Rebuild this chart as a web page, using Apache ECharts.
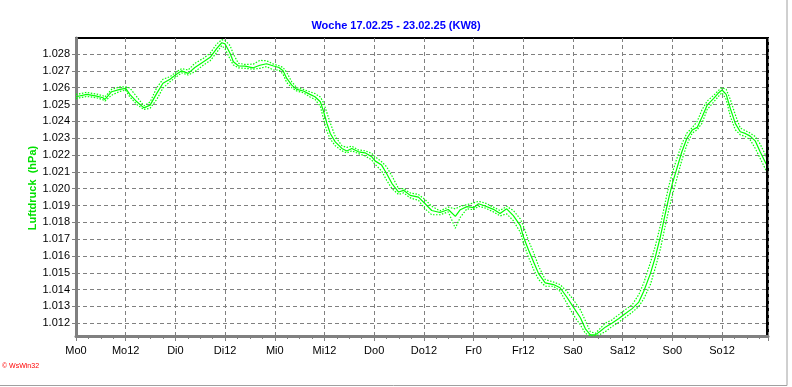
<!DOCTYPE html>
<html lang="de">
<head>
  <meta charset="UTF-8">
  <title>Luftdruck KW8</title>
  <script src="https://cdn.jsdelivr.net/npm/echarts@6/dist/echarts.min.js"></script>
  <style>
    html, body { margin: 0; padding: 0; background: #fff; }
    #chart { width: 792px; height: 387px; }
  </style>
</head>
<body>
  <div id="chart"></div>
  <script>
    // Stunden ab Montag 0 Uhr
    const hours = [0, 2.6, 5, 6.5, 7, 8.6, 10.6, 12, 13, 14.7, 16.4, 17.9, 19.5, 21, 22.7, 24, 25.5, 27.1, 28.7, 30.8,
      32.4, 34, 35.2, 36, 37.2, 38, 39.2, 40.8, 42.8, 44.4, 46, 47.7, 49, 50, 50.9, 52.1, 53.3, 54.9, 56.5, 57.7,
      59, 59.8, 60.6, 61.4, 62.6, 64.2, 65.4, 66.6, 68.2, 69.8, 71.4, 72.2, 73.8, 75, 76.3, 77.9, 79.1, 80.7, 82.7, 84.3,
      85.9, 87.9, 89.9, 91.6, 92.8, 94.4, 96, 97.2, 98.8, 100.8, 102.4, 104, 105.6, 107.3, 108, 109.3, 110.5, 111.7, 113.3, 115.3,
      116.9, 118.5, 120.1, 121.8, 123, 124.2, 125.4, 126.6, 127.8, 129.4, 131, 132.6, 134.3, 135.9, 137.1, 138.7, 139.9, 141.1, 142.3, 143.1,
      144, 145.1, 146.3, 147.5, 148.8, 150, 151.2, 152.4, 154, 155.2, 156, 157, 158, 159.2, 160.4, 161.6, 162.8, 164, 165.2, 166.6, 167.1]

    const pressure = [1.02546, 1.0256, 1.0255, 1.0254, 1.0253, 1.02576, 1.0259, 1.02596, 1.0256, 1.02516, 1.0248, 1.02496, 1.02566, 1.02626, 1.0265, 1.02675, 1.027, 1.02685, 1.0272, 1.02754,
      1.0278, 1.02834, 1.02867, 1.0286, 1.02804, 1.02754, 1.0273, 1.02728, 1.02718, 1.02733, 1.02742, 1.02729, 1.0272, 1.027, 1.02655, 1.02615, 1.0259, 1.0258, 1.0256, 1.02546,
      1.02516, 1.02457, 1.02387, 1.02328, 1.02278, 1.02239, 1.02224, 1.02239, 1.02219, 1.02213, 1.0219, 1.02165, 1.0214, 1.0209, 1.0203, 1.0198, 1.0199, 1.0196, 1.0195, 1.0191,
      1.0187, 1.01858, 1.01876, 1.01835, 1.01875, 1.01893, 1.01887, 1.0191, 1.01897, 1.01877, 1.01852, 1.0188, 1.0184, 1.0178, 1.01716, 1.01634, 1.01564, 1.01495, 1.0144, 1.0143,
      1.01411, 1.01356, 1.01296, 1.01233, 1.01167, 1.01131, 1.01131, 1.01153, 1.01177, 1.012, 1.01227, 1.01257, 1.01287, 1.01326, 1.0139, 1.01495, 1.01594, 1.01713, 1.01852, 1.01941,
      1.0203, 1.0212, 1.02219, 1.02298, 1.02348, 1.02364, 1.02427, 1.02496, 1.02536, 1.0257, 1.02586, 1.0256, 1.02477, 1.02388, 1.02338, 1.02328, 1.02312, 1.02284, 1.02219, 1.0215, 1.0213]

    const pressureMax = [1.0256, 1.02572, 1.02562, 1.02552, 1.02545, 1.0259, 1.02605, 1.02605, 1.02598, 1.02545, 1.02492, 1.02515, 1.026, 1.0265, 1.02665, 1.0269, 1.02713, 1.02705, 1.02745, 1.02775,
      1.02805, 1.0286, 1.02885, 1.0288, 1.0285, 1.028, 1.02745, 1.02738, 1.0274, 1.02762, 1.0276, 1.0274, 1.0273, 1.0272, 1.0269, 1.02635, 1.026, 1.0259, 1.02575, 1.02565,
      1.02545, 1.0251, 1.0245, 1.0239, 1.0231, 1.02255, 1.02245, 1.02252, 1.0223, 1.02225, 1.0221, 1.0219, 1.0216, 1.0213, 1.02075, 1.02, 1.02, 1.01975, 1.01965, 1.01935,
      1.01895, 1.01868, 1.0189, 1.0188, 1.01895, 1.01905, 1.01915, 1.01925, 1.01915, 1.0189, 1.0187, 1.01895, 1.0187, 1.0182, 1.0178, 1.0169, 1.0162, 1.0154, 1.0146, 1.01445,
      1.0143, 1.0139, 1.0134, 1.0128, 1.01215, 1.0115, 1.0114, 1.0117, 1.012, 1.0122, 1.0125, 1.0128, 1.0131, 1.0137, 1.0144, 1.0156, 1.0166, 1.0178, 1.0192, 1.0201,
      1.02095, 1.0218, 1.02265, 1.0233, 1.02362, 1.024, 1.0247, 1.0252, 1.02555, 1.02585, 1.026, 1.0259, 1.0253, 1.0244, 1.0236, 1.02345, 1.0233, 1.0231, 1.02265, 1.02195, 1.0216]

    const pressureMin = [1.02535, 1.02548, 1.0254, 1.02528, 1.0252, 1.02555, 1.02578, 1.02585, 1.02545, 1.025, 1.0247, 1.02478, 1.0253, 1.02598, 1.02635, 1.0266, 1.02688, 1.02675, 1.02695, 1.02735,
      1.0276, 1.0281, 1.0285, 1.0283, 1.0277, 1.02735, 1.02718, 1.02715, 1.0271, 1.02715, 1.02725, 1.02705, 1.02705, 1.0268, 1.0263, 1.026, 1.0258, 1.0257, 1.02545, 1.0253,
      1.0249, 1.0241, 1.0234, 1.02295, 1.02255, 1.02225, 1.02212, 1.02225, 1.02208, 1.02195, 1.0217, 1.02145, 1.02105, 1.0205, 1.02, 1.01965, 1.01975, 1.01945, 1.0193, 1.0188,
      1.01845, 1.01845, 1.01862, 1.01765, 1.0183, 1.0188, 1.01875, 1.01895, 1.01885, 1.01862, 1.01838, 1.0185, 1.0181, 1.0174, 1.0168, 1.0159, 1.0152, 1.0146, 1.0142, 1.0142,
      1.0139, 1.0132, 1.0125, 1.0119, 1.0114, 1.01125, 1.01125, 1.01135, 1.0115, 1.0118, 1.01205, 1.01235, 1.01265, 1.013, 1.01345, 1.0143, 1.0153, 1.0164, 1.0178, 1.0187,
      1.0196, 1.0206, 1.0217, 1.0226, 1.0233, 1.0235, 1.0239, 1.0247, 1.02515, 1.0255, 1.0257, 1.0253, 1.0243, 1.0235, 1.0232, 1.0231, 1.0229, 1.0224, 1.0218, 1.0211, 1.021]

    const dayLabels = ['Mo0', 'Mo12', 'Di0', 'Di12', 'Mi0', 'Mi12', 'Do0', 'Do12', 'Fr0', 'Fr12', 'Sa0', 'Sa12', 'So0', 'So12']
    const yTicks = [1.012, 1.013, 1.014, 1.015, 1.016, 1.017, 1.018, 1.019, 1.020, 1.021, 1.022, 1.023, 1.024, 1.025, 1.026, 1.027, 1.028]

    addEventListener('load', () => {
      let chart = echarts.init(document.querySelector('#chart'))
      let pairs = arr => hours.map((h, i) => [h, arr[i]])
      let green = '#00ff00'
      let font = 'Liberation Sans, Arial, sans-serif'
      let gridLine = { show: true, lineStyle: { color: '#808080', type: [4, 3], width: 1 } }

      let option = {
        animation: false,
        backgroundColor: '#fff',
        textStyle: { fontFamily: font },
        title: {
          text: 'Woche 17.02.25 - 23.02.25 (KW8)',
          left: 'center',
          top: 15,
          textStyle: { color: '#0000ff', fontSize: 11, fontWeight: 'bold' }
        },
        grid: {
          left: 76, top: 38, right: 24, bottom: 51,
          show: true, borderColor: '#000', borderWidth: 2, backgroundColor: 'transparent'
        },
        xAxis: {
          type: 'value',
          min: 0,
          max: 167.1,
          interval: 12,
          axisLine: { lineStyle: { color: '#808080', width: 3 } },
          axisTick: { length: 5, lineStyle: { color: '#808080' } },
          minorTick: { show: true, splitNumber: 4, length: 3, lineStyle: { color: '#808080' } },
          axisLabel: {
            color: '#000', fontSize: 11, margin: 9,
            formatter: v => (Math.abs(v / 12 - Math.round(v / 12)) < 1e-6 ? (dayLabels[Math.round(v / 12)] || '') : '')
          },
          splitLine: gridLine
        },
        yAxis: {
          type: 'value',
          min: 1.011244,
          max: 1.028951,
          axisLine: { show: true, lineStyle: { color: '#808080', width: 3 } },
          axisTick: { show: true, length: 4, customValues: yTicks, lineStyle: { color: '#808080' } },
          axisLabel: {
            color: '#000', fontSize: 11, margin: 6,
            customValues: yTicks,
            formatter: v => v.toFixed(3)
          },
          splitLine: gridLine
        },
        series: [
          {
            name: 'Luftdruck',
            type: 'line',
            data: pairs(pressure),
            symbol: 'none',
            lineStyle: { color: green, width: 1.2 },
            z: 5
          },
          {
            name: 'Max',
            type: 'line',
            data: pairs(pressureMax),
            symbol: 'none',
            lineStyle: { color: green, width: 1.2, type: [1.5, 1.5] },
            z: 4
          },
          {
            name: 'Min',
            type: 'line',
            data: pairs(pressureMin),
            symbol: 'none',
            lineStyle: { color: green, width: 1.2, type: [1.5, 1.5] },
            z: 4
          }
        ],
        graphic: [
          {
            // Achsentitel
            type: 'text', x: 33, y: 188, rotation: Math.PI / 2,
            style: {
              text: 'Luftdruck  (hPa)', fill: '#00e000', fontSize: 11, fontWeight: 'bold',
              fontFamily: font, align: 'center', verticalAlign: 'middle'
            }
          },
          {
            type: 'text', left: 2, top: 363,
            style: { text: '© WsWin32', fill: '#ff0000', fontSize: 7, fontFamily: font }
          },
          {
            type: 'line', silent: true, z: 100,
            shape: { x1: 767, y1: 37, x2: 767, y2: 335 },
            style: { stroke: '#000', lineWidth: 2 }
          },
          {
            type: 'polyline', silent: true,
            shape: { points: [[787, 0], [787, 385.5], [0, 385.5]] },
            style: { stroke: '#a0a0a0', lineWidth: 1, fill: null }
          }
        ]
      }
      chart.setOption(option)
    })
  </script>
</body>
</html>
